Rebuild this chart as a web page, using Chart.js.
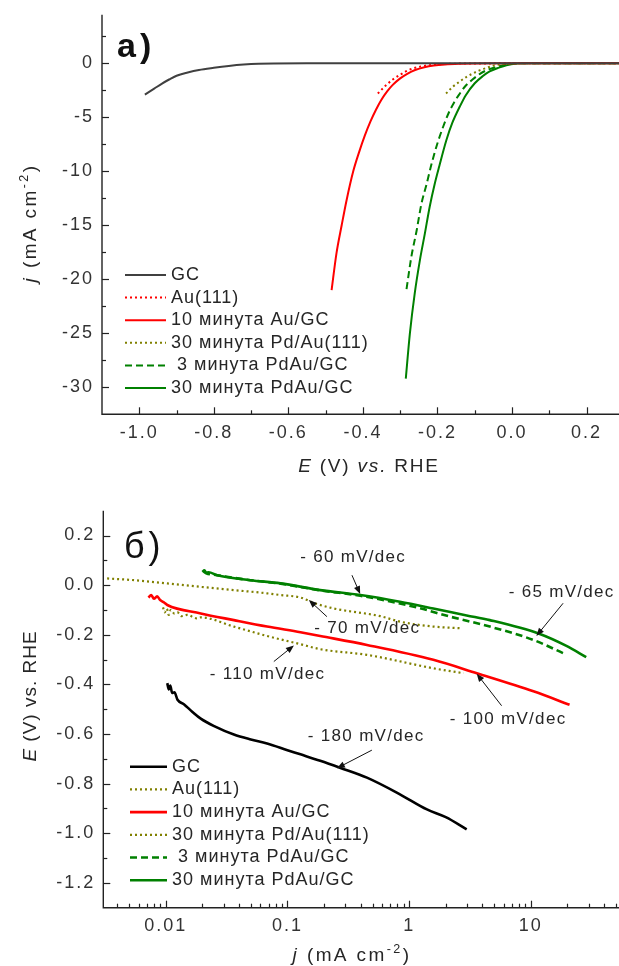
<!DOCTYPE html>
<html>
<head>
<meta charset="utf-8">
<script src="https://cdn.jsdelivr.net/npm/chart.js@4.4.0/dist/chart.umd.min.js"></script>
<style>
  html, body { margin: 0; padding: 0; background: #fff; overflow: hidden; }
  .panel { position: absolute; left: 0; width: 619px; }
  #panelA { top: 0; height: 480px; }
  #panelB { top: 480px; height: 486px; }
</style>
</head>
<body>
<div class="panel" id="panelA"><canvas id="polar" width="619" height="480"></canvas></div>
<div class="panel" id="panelB"><canvas id="tafel" width="619" height="486"></canvas></div>
<script>
// ---------- a) polarization curves: E (V vs. RHE) -> j (mA cm^-2) ----------
const polGC_E   = [-0.985, -0.96, -0.94, -0.92, -0.90, -0.87, -0.84, -0.80, -0.76, -0.72, -0.68, -0.64, -0.55, 0.30];
const polGC_J   = [-2.90, -2.35, -1.90, -1.50, -1.15, -0.85, -0.62, -0.42, -0.25, -0.12, -0.04, -0.01, 0, 0];

const polAu111_E = [-0.360, -0.338, -0.320, -0.302, -0.285, -0.267, -0.245, -0.222, -0.190, -0.150, -0.100, 0.30];
const polAu111_J = [-2.80, -2.03, -1.50, -1.10, -0.75, -0.49, -0.30, -0.17, -0.08, -0.03, -0.01, 0];

const polAuGC_E = [-0.484, -0.471, -0.457, -0.444, -0.426, -0.410, -0.395, -0.380, -0.365, -0.350, -0.335, -0.320, -0.300, -0.280, -0.260, -0.235, -0.210, -0.180, -0.140, -0.100, -0.050, 0.30];
const polAuGC_J = [-21.0, -17.6, -15.0, -12.7, -10.0, -8.2, -6.7, -5.4, -4.3, -3.35, -2.6, -2.0, -1.4, -0.95, -0.62, -0.36, -0.20, -0.10, -0.04, -0.015, 0, 0];

const polPdAu111_E = [-0.177, -0.160, -0.142, -0.122, -0.106, -0.087, -0.070, -0.051, -0.030, -0.015, 0.020, 0.30];
const polPdAu111_J = [-2.80, -2.20, -1.73, -1.25, -0.96, -0.65, -0.45, -0.22, -0.09, -0.03, 0, 0];

const polPdAu3_E = [-0.283, -0.270, -0.256, -0.243, -0.230, -0.215, -0.200, -0.185, -0.170, -0.155, -0.142, -0.125, -0.106, -0.085, -0.065, -0.040, -0.020, 0.003, 0.030, 0.30];
const polPdAu3_J = [-20.9, -17.9, -15.5, -13.0, -11.3, -9.2, -7.4, -5.9, -4.6, -3.6, -2.9, -2.1, -1.5, -0.95, -0.60, -0.32, -0.15, -0.03, 0, 0];

const polPdAu30_E = [-0.285, -0.274, -0.261, -0.247, -0.234, -0.221, -0.207, -0.195, -0.176, -0.160, -0.140, -0.124, -0.100, -0.079, -0.060, -0.035, -0.015, 0.012, 0.040, 0.30];
const polPdAu30_J = [-29.2, -25.0, -21.3, -18.2, -15.8, -13.3, -11.1, -9.5, -7.1, -5.5, -4.0, -2.95, -1.85, -1.2, -0.75, -0.40, -0.18, -0.03, 0, 0];

const polXTicks = [-1.0, -0.8, -0.6, -0.4, -0.2, 0.0, 0.2];
const polXMinor = [-0.9, -0.7, -0.5, -0.3, -0.1, 0.1];
const polYTicks = [-30, -25, -20, -15, -10, -5, 0];
const polYMinor = [2.5, -2.5, -7.5, -12.5, -17.5, -22.5, -27.5];

// ---------- б) Tafel plots: j (mA cm^-2, log) -> E (V vs. RHE) ----------
const tafGC_J = [0.0103, 0.0106, 0.0109, 0.0113, 0.0118, 0.0125, 0.0141, 0.0165, 0.0194, 0.025, 0.0363, 0.05, 0.068, 0.10, 0.128, 0.186, 0.27, 0.45, 0.84, 1.40, 2.0, 2.97];
const tafGC_E = [-0.395, -0.420, -0.405, -0.435, -0.432, -0.462, -0.480, -0.510, -0.538, -0.568, -0.602, -0.622, -0.638, -0.665, -0.682, -0.708, -0.736, -0.776, -0.843, -0.904, -0.935, -0.984];

const tafAu111_J = [0.0095, 0.0098, 0.0102, 0.0106, 0.011, 0.0118, 0.0125, 0.0135, 0.015, 0.018, 0.0194, 0.0363, 0.068, 0.128, 0.186, 0.45, 1.58, 2.8];
const tafAu111_E = [-0.090, -0.110, -0.095, -0.120, -0.100, -0.115, -0.110, -0.125, -0.120, -0.134, -0.130, -0.167, -0.205, -0.238, -0.258, -0.281, -0.335, -0.355];

const tafAuGC_J = [0.0072, 0.0076, 0.008, 0.0085, 0.009, 0.0097, 0.0103, 0.0194, 0.0363, 0.068, 0.128, 0.186, 0.45, 1.58, 3.6, 10.5, 20.8];
const tafAuGC_E = [-0.050, -0.040, -0.055, -0.045, -0.060, -0.070, -0.080, -0.114, -0.141, -0.167, -0.190, -0.205, -0.241, -0.301, -0.355, -0.428, -0.482];

const tafPdAu111_J = [0.0033, 0.0055, 0.0103, 0.0194, 0.0363, 0.068, 0.0877, 0.128, 0.165, 0.24, 0.58, 0.84, 1.58, 2.7];
const tafPdAu111_E = [0.027, 0.020, 0.007, -0.007, -0.020, -0.033, -0.040, -0.050, -0.072, -0.094, -0.125, -0.147, -0.167, -0.174];

const tafPdAu3_J = [0.0205, 0.0215, 0.0265, 0.0496, 0.0877, 0.186, 0.397, 0.70, 1.2, 2.17, 4.6, 10.5, 18.4];
const tafPdAu3_E = [0.055, 0.048, 0.040, 0.020, 0.006, -0.021, -0.043, -0.066, -0.092, -0.127, -0.167, -0.221, -0.274];

const tafPdAu30_J = [0.0200, 0.0208, 0.0215, 0.0225, 0.0265, 0.0496, 0.0877, 0.186, 0.397, 0.84, 1.58, 2.97, 4.6, 11.7, 19.6, 28.5];
const tafPdAu30_E = [0.053, 0.060, 0.050, 0.052, 0.040, 0.020, 0.007, -0.020, -0.040, -0.067, -0.094, -0.122, -0.141, -0.196, -0.245, -0.290];

const tafXTicks = [0.01, 0.1, 1, 10];
const tafYTicks = [-1.2, -1.0, -0.8, -0.6, -0.4, -0.2, 0.0, 0.2];
const tafYMinor = [0.1, -0.1, -0.3, -0.5, -0.7, -0.9, -1.1];

// slope labels: text centre and arrow tail -> head, in (j, E) units
const slopeNotes = [
  { text: '- 60 mV/dec',  j: 0.347, E: 0.112,  tj: 0.339, tE: 0.040,  hj: 0.396, hE: -0.036 },
  { text: '- 65 mV/dec',  j: 17.9,  E: -0.028, tj: 18.4,  tE: -0.073, hj: 11.1,  hE: -0.205 },
  { text: '- 70 mV/dec',  j: 0.453, E: -0.173, tj: 0.211, tE: -0.127, hj: 0.150, hE: -0.060 },
  { text: '- 110 mV/dec', j: 0.0686, E: -0.361, tj: 0.0773, tE: -0.308, hj: 0.113, hE: -0.243 },
  { text: '- 100 mV/dec', j: 6.5,   E: -0.542, tj: 5.75,  tE: -0.486, hj: 3.59,  hE: -0.357 },
  { text: '- 180 mV/dec', j: 0.444, E: -0.610, tj: 0.494, tE: -0.665, hj: 0.255, hE: -0.738 }
];

const FONT = '"Liberation Sans", Arial, sans-serif';
const INK = '#262626';
const RED = '#ff0000', GREEN = '#008000', OLIVE = '#808000';

function series(label, xs, ys, color, width, dash) {
  return {
    label: label,
    data: xs.map((x, k) => ({ x: x, y: ys[k] })),
    borderColor: color,
    backgroundColor: color,
    borderWidth: width,
    borderDash: dash || [],
    borderCapStyle: 'butt',
    pointRadius: 0,
    fill: false,
    cubicInterpolationMode: 'monotone'
  };
}

function spacing(ctx, px) {
  if ('letterSpacing' in ctx) ctx.letterSpacing = px + 'px';
}

// mixed-style text (italic / superscript pieces), centred on (cx, cy)
function drawRich(ctx, segs, cx, cy, size, rot, ls) {
  ctx.save();
  ctx.translate(cx, cy);
  if (rot) ctx.rotate(rot);
  ctx.textBaseline = 'middle';
  ctx.textAlign = 'left';
  ctx.fillStyle = INK;
  spacing(ctx, ls);
  let total = 0;
  const parts = segs.map(s => {
    const fs = s.sup ? size * 0.66 : size;
    ctx.font = (s.i ? 'italic ' : '') + fs + 'px ' + FONT;
    const w = ctx.measureText(s.t).width;
    total += w;
    return { s: s, fs: fs, w: w };
  });
  let x = -total / 2;
  parts.forEach(p => {
    ctx.font = (p.s.i ? 'italic ' : '') + p.fs + 'px ' + FONT;
    ctx.fillText(p.s.t, x, p.s.sup ? -size * 0.36 : 0);
    x += p.w;
  });
  ctx.restore();
}

function arrow(ctx, x1, y1, x2, y2) {
  const a = Math.atan2(y2 - y1, x2 - x1);
  const L = 8, W = 3.2;
  ctx.save();
  ctx.strokeStyle = '#111';
  ctx.fillStyle = '#111';
  ctx.lineWidth = 1;
  ctx.setLineDash([]);
  ctx.beginPath();
  ctx.moveTo(x1, y1);
  ctx.lineTo(x2 - L * 0.6 * Math.cos(a), y2 - L * 0.6 * Math.sin(a));
  ctx.stroke();
  ctx.beginPath();
  ctx.moveTo(x2, y2);
  ctx.lineTo(x2 - L * Math.cos(a) + W * Math.sin(a), y2 - L * Math.sin(a) - W * Math.cos(a));
  ctx.lineTo(x2 - L * Math.cos(a) - W * Math.sin(a), y2 - L * Math.sin(a) + W * Math.cos(a));
  ctx.closePath();
  ctx.fill();
  ctx.restore();
}

// wider tracking for the library's own tick labels
const tracking = {
  id: 'tracking',
  beforeUpdate(chart) { spacing(chart.ctx, 2); },
  beforeDraw(chart) { spacing(chart.ctx, 2); }
};

// axis lines, inward ticks, titles, legend and notes
function decoration(cfg) {
  return {
    id: 'decoration',
    afterDraw(chart) {
      const ctx = chart.ctx;
      const xs = chart.scales.x, ys = chart.scales.y;
      const area = chart.chartArea;
      ctx.save();
      ctx.strokeStyle = '#222';
      ctx.lineWidth = 1.4;
      ctx.setLineDash([]);
      ctx.beginPath();
      ctx.moveTo(area.left, area.top);
      ctx.lineTo(area.left, area.bottom);
      ctx.lineTo(area.right + 2, area.bottom);
      ctx.stroke();
      ctx.lineWidth = 1.2;
      const tickX = (vals, len) => vals.forEach(v => {
        const px = Math.round(xs.getPixelForValue(v)) + 0.5;
        if (px < area.left || px > area.right) return;
        ctx.beginPath(); ctx.moveTo(px, area.bottom); ctx.lineTo(px, area.bottom - len); ctx.stroke();
      });
      const tickY = (vals, len) => vals.forEach(v => {
        const py = Math.round(ys.getPixelForValue(v)) + 0.5;
        if (py < area.top || py > area.bottom) return;
        ctx.beginPath(); ctx.moveTo(area.left, py); ctx.lineTo(area.left + len, py); ctx.stroke();
      });
      tickX(cfg.xMajor, 7); tickX(cfg.xMinor, 4);
      tickY(cfg.yMajor, 7); tickY(cfg.yMinor, 4);

      // axis titles
      drawRich(ctx, cfg.xTitle.segs, cfg.xTitle.x, cfg.xTitle.y, 19, 0, cfg.xTitle.ls);
      drawRich(ctx, cfg.yTitle.segs, cfg.yTitle.x, cfg.yTitle.y, 19, -Math.PI / 2, cfg.yTitle.ls);

      // panel letter
      ctx.fillStyle = '#111';
      ctx.font = cfg.panel.font + ' ' + FONT;
      ctx.textBaseline = 'alphabetic';
      ctx.textAlign = 'left';
      spacing(ctx, 4);
      ctx.fillText(cfg.panel.text, cfg.panel.x, cfg.panel.y);

      // legend
      const lg = cfg.legend;
      ctx.font = '18px ' + FONT;
      ctx.textBaseline = 'middle';
      spacing(ctx, 1);
      chart.data.datasets.forEach((ds, i) => {
        const y = lg.y0 + i * lg.dy;
        ctx.strokeStyle = ds.borderColor;
        ctx.lineWidth = ds.borderWidth;
        ctx.setLineDash(ds.borderDash || []);
        ctx.beginPath(); ctx.moveTo(lg.x0, y); ctx.lineTo(lg.x1, y); ctx.stroke();
        ctx.setLineDash([]);
        ctx.fillStyle = INK;
        ctx.fillText(ds.label, lg.tx, y);
      });

      // slope notes
      spacing(ctx, 1.3);
      (cfg.notes || []).forEach(n => {
        ctx.font = '17px ' + FONT;
        ctx.fillStyle = INK;
        ctx.textAlign = 'center';
        ctx.textBaseline = 'middle';
        ctx.fillText(n.text, xs.getPixelForValue(n.j), ys.getPixelForValue(n.E));
        arrow(ctx, xs.getPixelForValue(n.tj), ys.getPixelForValue(n.tE),
                   xs.getPixelForValue(n.hj), ys.getPixelForValue(n.hE));
      });
      ctx.restore();
    }
  };
}

function logMinors(lo, hi) {
  const out = [];
  for (let d = Math.floor(Math.log10(lo)); d <= Math.ceil(Math.log10(hi)); d++) {
    for (let k = 2; k <= 9; k++) {
      const v = k * Math.pow(10, d);
      if (v > lo && v < hi) out.push(v);
    }
  }
  return out;
}

const tickFont = { family: FONT, size: 18 };
const fixX = h => s => { s.height = h; s.paddingLeft = 0; s.paddingRight = 0; };
const fixY = w => s => { s.width = w; s.paddingTop = 0; s.paddingBottom = 0; };

// ---------------- chart a) ----------------
new Chart(document.getElementById('polar'), {
  type: 'line',
  data: {
    datasets: [
      series('GC', polGC_E, polGC_J, '#404040', 2),
      series('Au(111)', polAu111_E, polAu111_J, RED, 2, [2, 3]),
      series('10 минута Au/GC', polAuGC_E, polAuGC_J, RED, 2),
      series('30 минута Pd/Au(111)', polPdAu111_E, polPdAu111_J, OLIVE, 2, [2, 3]),
      series(' 3 минута PdAu/GC', polPdAu3_E, polPdAu3_J, GREEN, 2, [7, 4]),
      series('30 минута PdAu/GC', polPdAu30_E, polPdAu30_J, GREEN, 2)
    ]
  },
  options: {
    responsive: false, animation: false, devicePixelRatio: 1,
    layout: { padding: { top: 14.7, right: 0, bottom: 0, left: 0 } },
    plugins: { legend: { display: false }, tooltip: { enabled: false } },
    scales: {
      x: {
        type: 'linear', min: -1.1, max: 0.287,
        grid: { display: false, drawTicks: false }, border: { display: false },
        afterBuildTicks: s => { s.ticks = polXTicks.map(v => ({ value: v })); },
        afterFit: fixX(65.7),
        ticks: { font: tickFont, color: '#333', padding: 8, maxRotation: 0, autoSkip: false,
                 callback: v => Number(v).toFixed(1) }
      },
      y: {
        type: 'linear', min: -32.5, max: 4.5,
        grid: { display: false, drawTicks: false }, border: { display: false },
        afterBuildTicks: s => { s.ticks = polYTicks.map(v => ({ value: v })); },
        afterFit: fixY(102),
        ticks: { font: tickFont, color: '#333', padding: 8, autoSkip: false,
                 callback: v => String(v) }
      }
    }
  },
  plugins: [tracking, decoration({
    xMajor: polXTicks, xMinor: polXMinor, yMajor: polYTicks, yMinor: polYMinor,
    xTitle: { x: 369, y: 467, ls: 1.8, segs: [{ t: 'E', i: true }, { t: ' (V) ' }, { t: 'vs.', i: true }, { t: ' RHE' }] },
    yTitle: { x: 31, y: 223, ls: 2.4, segs: [{ t: 'j', i: true }, { t: ' (mA cm' }, { t: '-2', sup: true }, { t: ')' }] },
    panel: { text: 'a)', x: 117, y: 57, font: 'bold 34px' },
    legend: { x0: 125, x1: 166, tx: 171, y0: 275, dy: 22.6 }
  })]
});

// ---------------- chart б) ----------------
const tafMin = 0.00307, tafMax = 53;
new Chart(document.getElementById('tafel'), {
  type: 'line',
  data: {
    datasets: [
      series('GC', tafGC_J, tafGC_E, '#000000', 2.6),
      series('Au(111)', tafAu111_J, tafAu111_E, OLIVE, 2.2, [2, 3]),
      series('10 минута Au/GC', tafAuGC_J, tafAuGC_E, RED, 2.6),
      series('30 минута Pd/Au(111)', tafPdAu111_J, tafPdAu111_E, OLIVE, 2.2, [2, 3]),
      series(' 3 минута PdAu/GC', tafPdAu3_J, tafPdAu3_E, GREEN, 2.6, [7, 4]),
      series('30 минута PdAu/GC', tafPdAu30_J, tafPdAu30_E, GREEN, 2.6)
    ]
  },
  options: {
    responsive: false, animation: false, devicePixelRatio: 1,
    layout: { padding: { top: 30.7, right: 0, bottom: 0, left: 0 } },
    plugins: { legend: { display: false }, tooltip: { enabled: false } },
    scales: {
      x: {
        type: 'logarithmic', min: tafMin, max: tafMax,
        grid: { display: false, drawTicks: false }, border: { display: false },
        afterBuildTicks: s => { s.ticks = tafXTicks.map(v => ({ value: v })); },
        afterFit: fixX(58.3),
        ticks: { font: tickFont, color: '#333', padding: 8, maxRotation: 0, autoSkip: false,
                 callback: v => String(v) }
      },
      y: {
        type: 'linear', min: -1.3, max: 0.3,
        grid: { display: false, drawTicks: false }, border: { display: false },
        afterBuildTicks: s => { s.ticks = tafYTicks.map(v => ({ value: v })); },
        afterFit: fixY(103.3),
        ticks: { font: tickFont, color: '#333', padding: 8, autoSkip: false,
                 callback: v => Number(v).toFixed(1) }
      }
    }
  },
  plugins: [tracking, decoration({
    xMajor: tafXTicks, xMinor: logMinors(tafMin, tafMax), yMajor: tafYTicks, yMinor: tafYMinor,
    xTitle: { x: 352, y: 476, ls: 2.4, segs: [{ t: 'j', i: true }, { t: ' (mA cm' }, { t: '-2', sup: true }, { t: ')' }] },
    yTitle: { x: 31, y: 216, ls: 1, segs: [{ t: 'E', i: true }, { t: ' (V) vs. RHE' }] },
    panel: { text: 'б)', x: 124, y: 78, font: '36px' },
    legend: { x0: 130, x1: 167, tx: 172, y0: 286.7, dy: 22.7 },
    notes: slopeNotes
  })]
});
</script>
</body>
</html>
